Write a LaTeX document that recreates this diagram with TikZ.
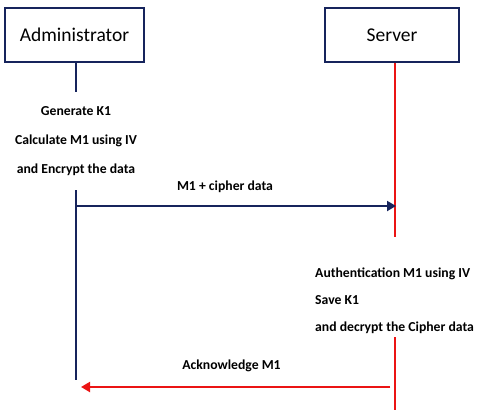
\documentclass[tikz,border=0pt]{standalone}
\usepackage{fontspec}
\setmainfont{Carlito}
\usetikzlibrary{arrows.meta}
\definecolor{navy}{RGB}{22,36,92}
\definecolor{sred}{RGB}{235,20,20}
\begin{document}
\begin{tikzpicture}[x=1pt,y=-1pt,
  actor/.style={draw=navy,line width=2.6pt,minimum width=#1,minimum height=54pt,font=\fontsize{19.5}{22}\selectfont,inner sep=0pt},
  note/.style={font=\bfseries\fontsize{13.7}{29}\selectfont,inner sep=0pt},
  navyline/.style={draw=navy,line width=2pt},
  redline/.style={draw=sred,line width=2pt},
  tip/.style={-{Triangle[length=9pt,width=10pt]}}]
\useasboundingbox (0,0) rectangle (480,416);
\node[actor=139pt] (adm) at (74.5,35) {Administrator};
\node[actor=134pt] (srv) at (392,35) {Server};
\coordinate (a1) at (76,92);
\coordinate (a2) at (76,190);
\coordinate (a3) at (76,380);
\coordinate (aa) at (76,206);
\coordinate (sa) at (396,206);
\coordinate (s1) at (395,237);
\coordinate (s2) at (395,337);
\coordinate (s3) at (395,410);
\coordinate (rb) at (390,387);
\coordinate (re) at (81,387);
\node[note,align=center,anchor=base] (t1) at (76,173) {Generate K1\\Calculate M1 using IV\\and Encrypt the data};
\node[note,align=left,anchor=base west,font=\bfseries\fontsize{13.7}{27}\selectfont] (t2) at (315,331) {Authentication M1 using IV\\Save K1\\and decrypt the Cipher data};
\draw[navyline] (adm.south -| a1) -- (a1);
\draw[navyline] (a2) -- (a3);
\draw[redline] (srv.south -| s1) -- (s1);
\draw[redline] (s2) -- (s3);
\draw[navyline,tip,fill=navy] (aa) -- node[note,above=12pt,xshift=-11pt] (l1) {M1 + cipher data} (sa);
\draw[redline,tip,fill=sred] (rb) -- node[note,above=14pt,xshift=-4pt] (l2) {Acknowledge M1} (re);
\end{tikzpicture}
\end{document}
